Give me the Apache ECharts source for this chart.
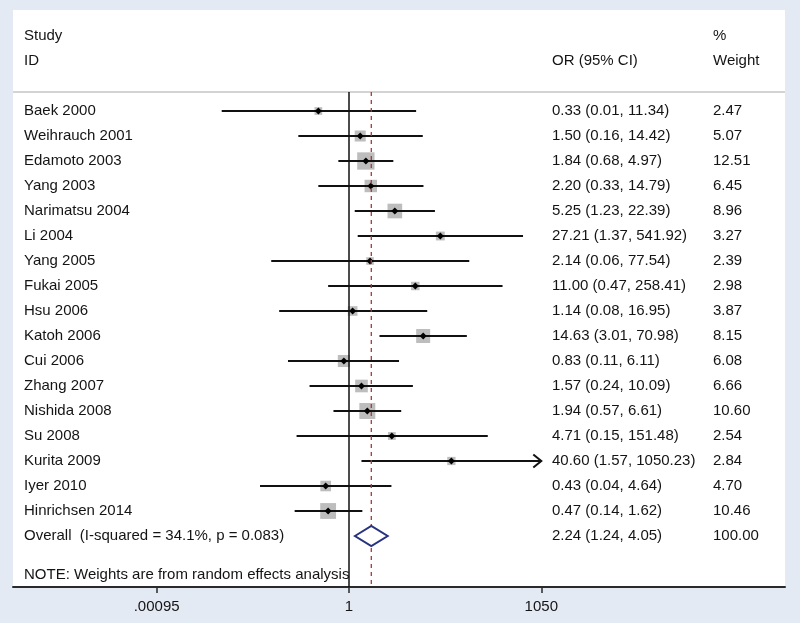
<!DOCTYPE html>
<html>
<head>
<meta charset="utf-8">
<title>Forest plot</title>
<script src="https://cdn.jsdelivr.net/npm/echarts@6/dist/echarts.min.js"></script>
<style>
  html, body { margin: 0; padding: 0; background: #e4eaf4; }
  #chart { width: 800px; height: 623px; }
</style>
</head>
<body>
<div id="chart"></div>
<script>
// study data
var studyNames = ['Baek 2000', 'Weihrauch 2001', 'Edamoto 2003', 'Yang 2003', 'Narimatsu 2004', 'Li 2004',
    'Yang 2005', 'Fukai 2005', 'Hsu 2006', 'Katoh 2006', 'Cui 2006', 'Zhang 2007', 'Nishida 2008',
    'Su 2008', 'Kurita 2009', 'Iyer 2010', 'Hinrichsen 2014'];
var oddsRatio = [0.33, 1.50, 1.84, 2.20, 5.25, 27.21, 2.14, 11.00, 1.14, 14.63, 0.83, 1.57, 1.94, 4.71, 40.60, 0.43, 0.47];
var lowerCI = [0.01, 0.16, 0.68, 0.33, 1.23, 1.37, 0.06, 0.47, 0.08, 3.01, 0.11, 0.24, 0.57, 0.15, 1.57, 0.04, 0.14];
var upperCI = [11.34, 14.42, 4.97, 14.79, 22.39, 541.92, 77.54, 258.41, 16.95, 70.98, 6.11, 10.09, 6.61, 151.48, 1050.23, 4.64, 1.62];
var weights = [2.47, 5.07, 12.51, 6.45, 8.96, 3.27, 2.39, 2.98, 3.87, 8.15, 6.08, 6.66, 10.60, 2.54, 2.84, 4.70, 10.46];

var overallLabel = 'Overall  (I-squared = 34.1%, p = 0.083)';
var overallOR = 2.24;
var overallCI = [1.24, 4.05];
var overallWeight = 100.00;

var tickValues = [0.00095, 1, 1050];
var tickLabels = ['.00095', '1', '1050'];

var FONT = '"Liberation Sans", Arial, Helvetica, sans-serif';
var FS = 15;
var TXT = '#141414';
var COL_NAME = 24, COL_OR = 552, COL_W = 713;
var HEADER_ROW = -0.76;
var X_MIN = -5.279, X_MAX = 6.850, Y_MIN = -4.04, Y_MAX = 19.04;
var X_CAP = Math.log10(tickValues[tickValues.length - 1]);

function fmt(v) { return v.toFixed(2); }

function txt(x, y, s) {
    return {
        type: 'text', x: x, y: y,
        style: { text: s, fill: TXT, fontSize: FS, fontFamily: FONT, verticalAlign: 'middle', align: 'left' }
    };
}

function renderStudy(params, api) {
    var i = params.dataIndex;
    var y = api.coord([0, i])[1];
    var xo = api.coord([Math.log10(oddsRatio[i]), i])[0];
    var xl = api.coord([Math.log10(lowerCI[i]), i])[0];
    var hi = Math.log10(upperCI[i]);
    var capped = hi > X_CAP;
    var xu = api.coord([Math.min(hi, X_CAP), i])[0];
    var side = 4.9 * Math.sqrt(weights[i]);
    var kids = [
        { type: 'rect', shape: { x: xo - side / 2, y: y - side / 2, width: side, height: side }, style: { fill: '#bdbdbd' } },
        { type: 'line', shape: { x1: xl, y1: y, x2: xu, y2: y }, style: { stroke: '#111', lineWidth: 2 } },
        { type: 'polygon', shape: { points: [[xo - 3.5, y], [xo, y - 3.5], [xo + 3.5, y], [xo, y + 3.5]] }, style: { fill: '#000' } },
        txt(COL_NAME, y, studyNames[i]),
        txt(COL_OR, y, fmt(oddsRatio[i]) + ' (' + fmt(lowerCI[i]) + ', ' + fmt(upperCI[i]) + ')'),
        txt(COL_W, y, fmt(weights[i]))
    ];
    if (capped) {
        kids.push({
            type: 'polyline',
            shape: { points: [[xu - 8, y - 6.5], [xu, y], [xu - 8, y + 6.5]] },
            style: { stroke: '#111', lineWidth: 2, fill: null }
        });
    }
    return { type: 'group', children: kids };
}

function renderOverall(params, api) {
    var row = api.value(1);
    var y = api.coord([0, row])[1];
    var xo = api.coord([Math.log10(overallOR), row])[0];
    var xl = api.coord([Math.log10(overallCI[0]), row])[0];
    var xu = api.coord([Math.log10(overallCI[1]), row])[0];
    return {
        type: 'group',
        children: [
            { type: 'polygon', shape: { points: [[xl, y], [xo, y - 10], [xu, y], [xo, y + 10]] },
              style: { fill: '#fff', stroke: '#27337e', lineWidth: 2 } },
            txt(COL_NAME, y, overallLabel),
            txt(COL_OR, y, fmt(overallOR) + ' (' + fmt(overallCI[0]) + ', ' + fmt(overallCI[1]) + ')'),
            txt(COL_W, y, fmt(overallWeight))
        ]
    };
}

var chart = echarts.init(document.getElementById('chart'));
var logTicks = tickValues.map(function (v) { return Math.log10(v); });

var option = {
    backgroundColor: '#e4eaf4',
    animation: false,
    grid: {
        left: 13, right: 15, top: 10, bottom: 36,
        show: true, backgroundColor: '#ffffff', borderWidth: 0
    },
    xAxis: {
        type: 'value', min: X_MIN, max: X_MAX,
        axisLine: { onZero: false, lineStyle: { color: '#2a2a2a', width: 2 } },
        axisTick: { customValues: logTicks, length: 6, lineStyle: { color: '#2a2a2a', width: 1.5 } },
        axisLabel: {
            customValues: logTicks, color: TXT, fontSize: FS, fontFamily: FONT, margin: 12,
            formatter: function (v) {
                var k = logTicks.findIndex(function (t) { return Math.abs(t - v) < 1e-6; });
                return k >= 0 ? tickLabels[k] : '';
            }
        },
        splitLine: { show: false }
    },
    yAxis: { type: 'value', min: Y_MIN, max: Y_MAX, inverse: true, show: false, splitLine: { show: false } },
    graphic: [
        txt(COL_NAME, 36, 'Study'),
        txt(COL_NAME, 61, 'ID'),
        txt(COL_OR, 61, 'OR (95% CI)'),
        txt(COL_W, 36, '%'),
        txt(COL_W, 61, 'Weight'),
        txt(COL_NAME, 575, 'NOTE: Weights are from random effects analysis')
    ],
    series: [
        {
            name: 'header rule', type: 'line', symbol: 'none', silent: true,
            data: [[X_MIN, HEADER_ROW], [X_MAX, HEADER_ROW]],
            lineStyle: { color: '#a8a8a8', width: 1 }
        },
        {
            name: 'null line', type: 'line', symbol: 'none', silent: true,
            data: [[0, HEADER_ROW], [0, Y_MAX]],
            lineStyle: { color: '#111', width: 1.5 }
        },
        {
            name: 'overall line', type: 'line', symbol: 'none', silent: true,
            data: [[Math.log10(overallOR), HEADER_ROW], [Math.log10(overallOR), Y_MAX]],
            lineStyle: { color: '#a5393b', width: 1.3, type: [4, 4] }
        },
        {
            name: 'studies', type: 'custom', renderItem: renderStudy,
            encode: { x: 0, y: 1 },
            data: studyNames.map(function (s, i) { return [Math.log10(oddsRatio[i]), i]; }),
            z: 3
        },
        {
            name: 'overall', type: 'custom', renderItem: renderOverall,
            encode: { x: 0, y: 1 },
            data: [[Math.log10(overallOR), studyNames.length]],
            z: 4
        }
    ]
};
chart.setOption(option);
</script>
</body>
</html>
